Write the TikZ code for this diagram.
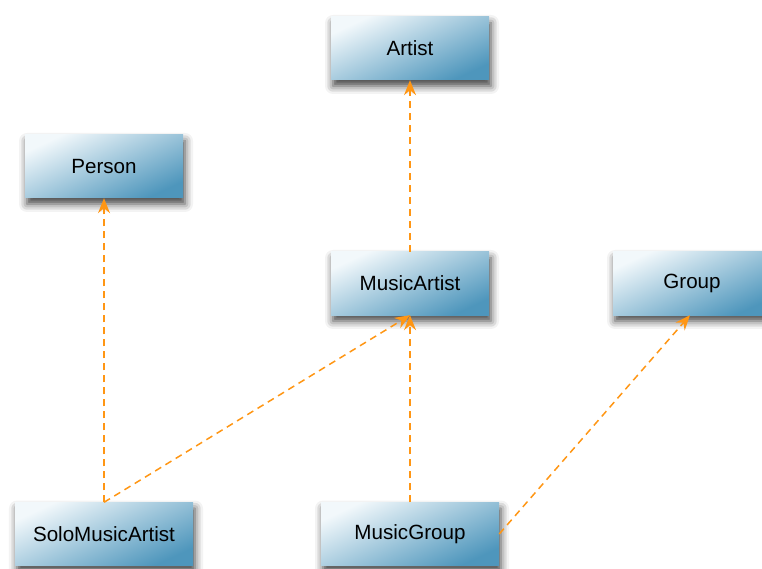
\documentclass[tikz,border=0pt]{standalone}
\usepackage{fontspec}
\setmainfont{Liberation Sans}
\usetikzlibrary{arrows.meta,shadows.blur}
\definecolor{boxlight}{RGB}{242,248,251}
\definecolor{boxdark}{RGB}{78,150,188}
\definecolor{arrorange}{RGB}{255,150,20}
\tikzset{
  classbox/.style={rectangle, inner sep=0pt, minimum height=63pt,
    top color=boxlight, bottom color=boxdark, shading angle=25,
    blur shadow={shadow xshift=2pt, shadow yshift=-6pt, shadow blur radius=8pt, shadow opacity=75},
    font=\fontsize{20.6}{24}\selectfont},
  narrowbox/.style={classbox, minimum width=158pt},
  widebox/.style={classbox, minimum width=178pt},
  isa/.style={draw=arrorange, line width=1.5pt, dash pattern=on 7pt off 5pt,
    -{Stealth[length=15pt,width=12pt,inset=5pt]}, arrorange}
}
\begin{document}
\begin{tikzpicture}[x=1pt,y=1pt]
\useasboundingbox (0,0) rectangle (762,568);
\node[narrowbox] (artist) at (410,519.5) {Artist};
\node[narrowbox] (person) at (104,401.5) {Person};
\node[narrowbox] (musicartist) at (410,284.5) {MusicArtist};
\node[narrowbox] (group) at (692,284.5) {Group};
\node[widebox] (solo) at (104,34) {SoloMusicArtist};
\node[widebox] (musicgroup) at (410,34) {MusicGroup};
\draw[isa] (musicartist.north) -- (artist.south);
\draw[isa] (solo.north) -- (person.south);
\draw[isa] (solo.north) -- (musicartist.south);
\draw[isa] (musicgroup.north) -- (musicartist.south);
\draw[isa] (musicgroup.east) -- ([xshift=-2pt]group.south);
\end{tikzpicture}
\end{document}
